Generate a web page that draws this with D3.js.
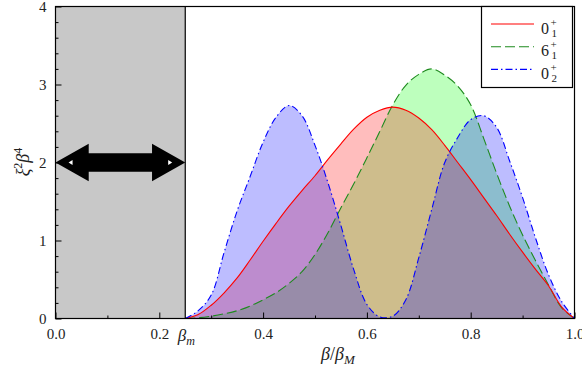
<!DOCTYPE html>
<html>
<head>
<meta charset="utf-8">
<script src="https://cdn.jsdelivr.net/npm/d3@7"></script>
<style>
  body { margin: 0; background: #ffffff; }
  svg, svg text { font-family: "Liberation Serif", serif; }
</style>
</head>
<body>
<div id="chart"></div>
<script>
// beta / beta_M grid, from beta_m up to 1
const betas = [0.25, 0.275, 0.3, 0.325, 0.35, 0.375, 0.4, 0.425, 0.45, 0.475,
  0.5, 0.525, 0.55, 0.575, 0.6, 0.625, 0.65, 0.675, 0.7, 0.725,
  0.75, 0.775, 0.8, 0.825, 0.85, 0.875, 0.9, 0.925, 0.95, 0.975, 1.0];

const state01 = [0, 0.05, 0.17, 0.33, 0.52, 0.75, 0.99, 1.22, 1.44, 1.64,
  1.83, 2.04, 2.24, 2.43, 2.58, 2.67, 2.71, 2.67, 2.57, 2.42,
  2.22, 2.0, 1.78, 1.55, 1.32, 1.08, 0.85, 0.63, 0.42, 0.15, 0];

const state61 = [0, 0.01, 0.03, 0.06, 0.1, 0.16, 0.24, 0.33, 0.45, 0.6,
  0.82, 1.1, 1.42, 1.73, 2.06, 2.4, 2.74, 2.99, 3.13, 3.2,
  3.12, 2.98, 2.74, 2.31, 1.86, 1.44, 1.07, 0.74, 0.43, 0.14, 0];

const state02 = [0, 0.1, 0.3, 0.85, 1.38, 1.82, 2.26, 2.58, 2.73, 2.6,
  2.22, 1.74, 1.19, 0.62, 0.18, 0.02, 0.03, 0.24, 0.78, 1.4,
  2.0, 2.32, 2.55, 2.6, 2.45, 2.02, 1.55, 1.03, 0.56, 0.22, 0];

const betaMin = 0.25;
const xTicks = [0, 0.2, 0.4, 0.6, 0.8, 1.0];
const xMinor = [0.1, 0.3, 0.5, 0.7, 0.9];
const yTicks = [0, 1, 2, 3, 4];
const yMinor = [0.2, 0.4, 0.6, 0.8, 1.2, 1.4, 1.6, 1.8, 2.2, 2.4, 2.6, 2.8, 3.2, 3.4, 3.6, 3.8];

const series = [
  { key: '6', sub: '1', data: state61, line: '#1e8a1e', fill: '#00ff00', dash: '10,4' },
  { key: '0', sub: '1', data: state01, line: '#ff0000', fill: '#ff0000', dash: null },
  { key: '0', sub: '2', data: state02, line: '#0000ff', fill: '#0000ff', dash: '7,3,1.5,3' }
];
const legendOrder = [1, 0, 2];

const FONT = '"Liberation Serif", serif';
const W = 582;
const H = 373;
const margin = { top: 6, right: 8, bottom: 55, left: 55 };
const width = W - margin.left - margin.right;
const height = H - margin.top - margin.bottom;

const svg = d3.select('#chart').append('svg')
  .attr('width', W)
  .attr('height', H)
  .attr('font-family', FONT);

const g = svg.append('g')
  .attr('transform', `translate(${margin.left + 0.5},${margin.top + 0.5})`);

const x = d3.scaleLinear().domain([0, 1]).range([0, width]);
const y = d3.scaleLinear().domain([0, 4]).range([height, 0]);

// forbidden region
g.append('rect')
  .attr('x', x(0))
  .attr('y', 0)
  .attr('width', x(betaMin) - x(0))
  .attr('height', height)
  .attr('fill', '#c8c8c8');

const area = d3.area()
  .x((d, i) => x(betas[i]))
  .y0(y(0))
  .y1((d) => Math.min(y(d), y(0)))
  .curve(d3.curveCatmullRom.alpha(0.5));

const line = d3.line()
  .x((d, i) => x(betas[i]))
  .y((d) => y(d))
  .curve(d3.curveCatmullRom.alpha(0.5));

g.append('g')
  .selectAll('path')
  .data(series)
  .join('path')
  .attr('d', (s) => area(s.data))
  .attr('fill', (s) => s.fill)
  .attr('fill-opacity', 0.26);

g.append('g')
  .selectAll('path')
  .data(series)
  .join('path')
  .attr('d', (s) => line(s.data))
  .attr('fill', 'none')
  .attr('stroke', (s) => s.line)
  .attr('stroke-width', 1.1)
  .attr('stroke-dasharray', (s) => s.dash);

// beta_m boundary
g.append('line')
  .attr('x1', x(betaMin)).attr('x2', x(betaMin))
  .attr('y1', 0).attr('y2', height)
  .attr('stroke', '#000').attr('stroke-width', 1.2);

// double arrow across the forbidden region
const arrowY = 2;
const headLen = 0.064;
const headHalf = 0.24;
const shaftHalf = 0.12;
const arrowPts = [
  [0, arrowY],
  [headLen, arrowY + headHalf],
  [headLen, arrowY + shaftHalf],
  [betaMin - headLen, arrowY + shaftHalf],
  [betaMin - headLen, arrowY + headHalf],
  [betaMin, arrowY],
  [betaMin - headLen, arrowY - headHalf],
  [betaMin - headLen, arrowY - shaftHalf],
  [headLen, arrowY - shaftHalf],
  [headLen, arrowY - headHalf]
];
g.append('path')
  .attr('d', d3.line().x((d) => x(d[0])).y((d) => y(d[1]))(arrowPts) + 'Z')
  .attr('fill', '#000');

const markL = x(0.029);
const markR = x(betaMin - 0.029);
g.append('path')
  .attr('d', `M${markL - 2},${y(arrowY)}L${markL + 2},${y(arrowY) - 2.5}L${markL + 2},${y(arrowY) + 2.5}Z`)
  .attr('fill', '#fff');
g.append('path')
  .attr('d', `M${markR + 2},${y(arrowY)}L${markR - 2},${y(arrowY) - 2.5}L${markR - 2},${y(arrowY) + 2.5}Z`)
  .attr('fill', '#fff');

// axes (ticks point inward)
const xAxis = g.append('g')
  .attr('transform', `translate(0,${height})`)
  .call(d3.axisBottom(x).tickValues(xTicks).tickSizeInner(-6).tickSizeOuter(0)
    .tickPadding(10).tickFormat(d3.format('.1f')));
g.append('g')
  .attr('transform', `translate(0,${height})`)
  .call(d3.axisBottom(x).tickValues(xMinor).tickSizeInner(-3).tickSizeOuter(0).tickFormat(''));
g.append('g')
  .call(d3.axisLeft(y).tickValues(yTicks).tickSizeInner(-6).tickSizeOuter(0)
    .tickPadding(9).tickFormat(d3.format('d')));
g.append('g')
  .call(d3.axisLeft(y).tickValues(yMinor).tickSizeInner(-3).tickSizeOuter(0).tickFormat(''));

g.selectAll('.domain').remove();
g.selectAll('g').attr('font-family', FONT);
g.selectAll('.tick text')
  .attr('font-size', 15)
  .attr('fill', '#222');

// beta_m tick label
const bm = xAxis.append('text')
  .attr('x', x(betaMin) + 1)
  .attr('y', 10)
  .attr('dy', '0.71em')
  .attr('text-anchor', 'middle')
  .attr('fill', '#222')
  .attr('font-size', 17);
bm.append('tspan').attr('font-style', 'italic').text('β');
bm.append('tspan').attr('font-style', 'italic').attr('font-size', 12).attr('dy', 4).text('m');

// frame
g.append('rect')
  .attr('width', width)
  .attr('height', height)
  .attr('fill', 'none')
  .attr('stroke', '#000')
  .attr('stroke-width', 1.2);

// axis titles
const xt = svg.append('text')
  .attr('x', 338)
  .attr('y', 360)
  .attr('text-anchor', 'middle')
  .attr('font-size', 18)
  .attr('fill', '#222');
xt.append('tspan').attr('font-style', 'italic').text('β');
xt.append('tspan').text('/');
xt.append('tspan').attr('font-style', 'italic').text('β');
xt.append('tspan').attr('font-style', 'italic').attr('font-size', 13).attr('dy', 4).text('M');

const yt = svg.append('text')
  .attr('transform', 'translate(29,162) rotate(-90)')
  .attr('text-anchor', 'middle')
  .attr('font-size', 18)
  .attr('fill', '#222');
yt.append('tspan').attr('font-style', 'italic').text('ξ');
yt.append('tspan').attr('font-size', 12).attr('dy', -7).text('2');
yt.append('tspan').attr('font-style', 'italic').attr('dy', 7).text('β');
yt.append('tspan').attr('font-size', 12).attr('dy', -7).text('4');

// legend
const lg = svg.append('g');
lg.append('rect')
  .attr('x', 481.5).attr('y', 6.5)
  .attr('width', 91).attr('height', 81)
  .attr('fill', '#fff')
  .attr('stroke', '#000')
  .attr('stroke-width', 1.2);

const rows = lg.selectAll('g.row')
  .data(legendOrder.map((i) => series[i]))
  .join('g')
  .attr('class', 'row')
  .attr('transform', (d, i) => `translate(0,${24 + i * 22.7})`);

rows.append('line')
  .attr('x1', 491).attr('x2', 534)
  .attr('stroke', (d) => d.line)
  .attr('stroke-width', 1.1)
  .attr('stroke-dasharray', (d) => d.dash);
rows.append('text')
  .attr('x', 541).attr('y', 9.5)
  .attr('font-size', 16).attr('fill', '#222')
  .text((d) => d.key);
rows.append('text')
  .attr('x', 550.5).attr('y', 1.5)
  .attr('font-size', 11).attr('fill', '#222')
  .text('+');
rows.append('text')
  .attr('x', 551.5).attr('y', 12.5)
  .attr('font-size', 11).attr('fill', '#222')
  .text((d) => d.sub);
</script>
</body>
</html>
